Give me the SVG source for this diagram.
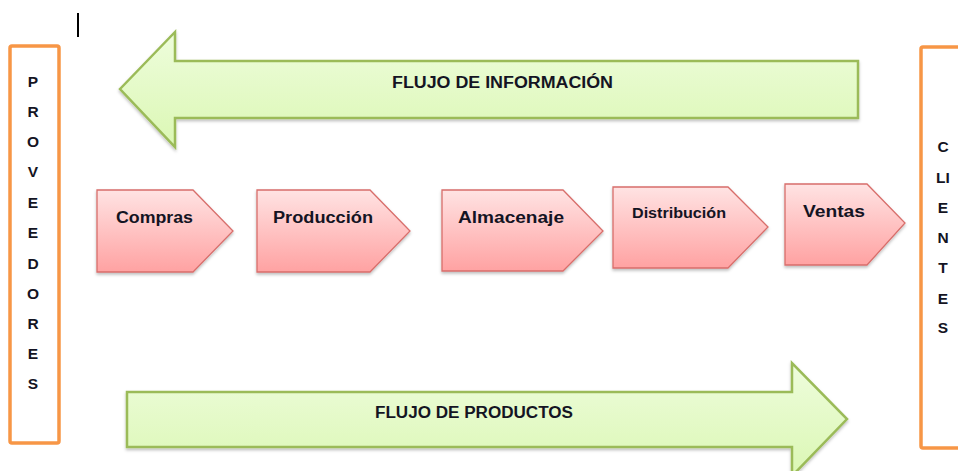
<svg xmlns="http://www.w3.org/2000/svg" width="958" height="471" viewBox="0 0 958 471">
  <defs>
    <linearGradient id="gPink" x1="0" y1="0" x2="0" y2="1">
      <stop offset="0" stop-color="#FFE3E3"/>
      <stop offset="1" stop-color="#FFA2A2"/>
    </linearGradient>
    <linearGradient id="gGreen" x1="0" y1="0" x2="0" y2="1">
      <stop offset="0" stop-color="#EEFDDC"/>
      <stop offset="1" stop-color="#DBF7B4"/>
    </linearGradient>
    <filter id="sh" x="-10%" y="-10%" width="120%" height="130%">
      <feDropShadow dx="0" dy="2" stdDeviation="1.5" flood-color="#000" flood-opacity="0.25"/>
    </filter>
  </defs>
  <style>
    .step { fill: url(#gPink); stroke: #D86E6B; stroke-width: 1.3; filter: url(#sh); }
    .flow { fill: url(#gGreen); stroke: #9BBB59; stroke-width: 2.5; stroke-linejoin: miter; filter: url(#sh); }
    .side { fill: #FFFFFF; stroke: #F79646; stroke-width: 3.5; }
    .lbl { font-family: "Liberation Sans", Arial, sans-serif; font-weight: bold; fill: #141423; }
    .vl { font-family: "Liberation Sans", Arial, sans-serif; font-weight: bold; font-size: 15.5px; fill: #141423; text-anchor: middle; }
  </style>
  <rect width="958" height="471" fill="#FFFFFF"/>
  <line x1="78" y1="13" x2="78" y2="37" stroke="#000" stroke-width="2"/>

  <g id="proveedores">
    <rect class="side" x="10" y="46" width="49" height="397" rx="2"/>
    <text class="vl" x="33" y="87">P</text>
    <text class="vl" x="33" y="117">R</text>
    <text class="vl" x="33" y="147">O</text>
    <text class="vl" x="33" y="177">V</text>
    <text class="vl" x="33" y="208">E</text>
    <text class="vl" x="33" y="238">E</text>
    <text class="vl" x="33" y="269">D</text>
    <text class="vl" x="33" y="299">O</text>
    <text class="vl" x="33" y="329">R</text>
    <text class="vl" x="33" y="359">E</text>
    <text class="vl" x="33" y="389">S</text>
  </g>

  <g id="clientes">
    <rect class="side" x="921" y="47" width="60" height="401" rx="2"/>
    <text class="vl" x="943" y="152">C</text>
    <text class="vl" x="943" y="183">LI</text>
    <text class="vl" x="943" y="213">E</text>
    <text class="vl" x="943" y="243">N</text>
    <text class="vl" x="943" y="273">T</text>
    <text class="vl" x="943" y="304">E</text>
    <text class="vl" x="943" y="333">S</text>
  </g>

  <g id="connectors">
    <g id="flujo-informacion">
      <polygon class="flow" points="120,89 175,32 175,61 858,61 858,118 175,118 175,147"/>
      <text class="lbl" x="392" y="88" font-size="16" textLength="221" lengthAdjust="spacingAndGlyphs">FLUJO DE INFORMACIÓN</text>
    </g>
    <g id="flujo-productos">
      <polygon class="flow" points="127,392 792,392 792,363 847,419 792,476 792,447 127,447"/>
      <text class="lbl" x="375" y="418" font-size="16" textLength="198" lengthAdjust="spacingAndGlyphs">FLUJO DE PRODUCTOS</text>
    </g>
  </g>

  <g id="compras">
    <path class="step" d="M97,190 H193 L233,231 L193,272 H97 Z"/>
    <text class="lbl" x="116" y="223" font-size="16" textLength="77" lengthAdjust="spacingAndGlyphs">Compras</text>
  </g>
  <g id="produccion">
    <path class="step" d="M257,190 H370 L410,231 L370,272 H257 Z"/>
    <text class="lbl" x="273" y="223" font-size="16" textLength="100" lengthAdjust="spacingAndGlyphs">Producción</text>
  </g>
  <g id="almacenaje">
    <path class="step" d="M442,190 H563 L603,231 L563,271 H442 Z"/>
    <text class="lbl" x="458" y="223" font-size="16" textLength="106" lengthAdjust="spacingAndGlyphs">Almacenaje</text>
  </g>
  <g id="distribucion">
    <path class="step" d="M613,187 H728 L768,227 L728,268 H613 Z"/>
    <text class="lbl" x="632" y="218" font-size="14" textLength="94" lengthAdjust="spacingAndGlyphs">Distribución</text>
  </g>
  <g id="ventas">
    <path class="step" d="M785,184 H867 L905,223 L867,265 H785 Z"/>
    <text class="lbl" x="803" y="217" font-size="16" textLength="62" lengthAdjust="spacingAndGlyphs">Ventas</text>
  </g>
</svg>
